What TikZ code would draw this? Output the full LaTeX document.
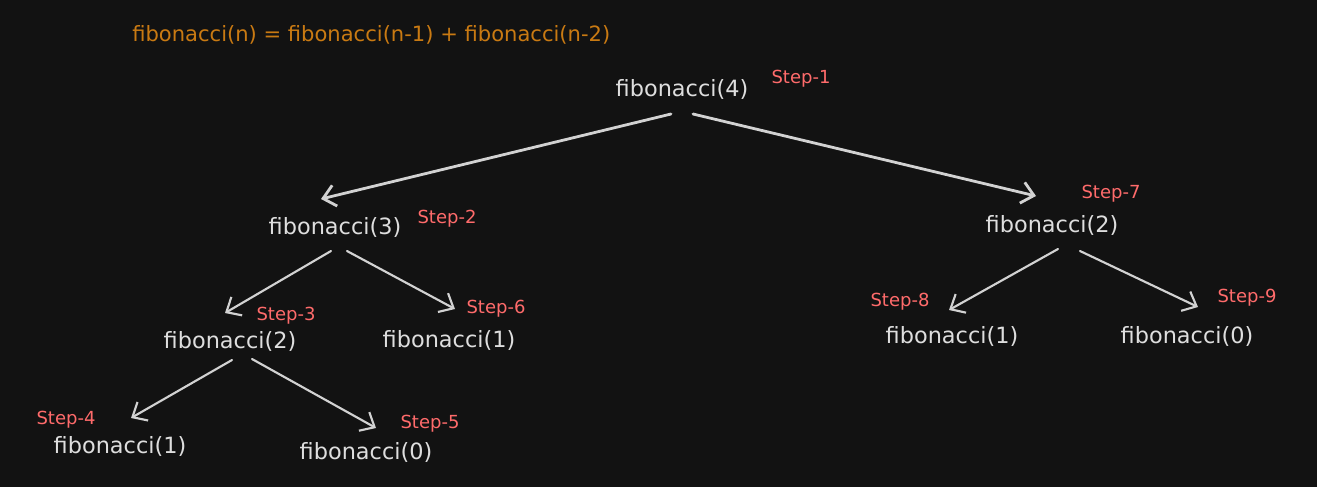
\documentclass[tikz,border=0pt]{standalone}
\usepackage{fontspec}
\setmainfont{DejaVu Sans}
\usepackage{tikz}
\usetikzlibrary{arrows.meta, calc, positioning}
\definecolor{bgdark}{HTML}{121212}
\definecolor{fibtext}{HTML}{DEDEDE}
\definecolor{arrgray}{HTML}{D2D2D2}
\definecolor{steppink}{HTML}{FF6B6B}
\definecolor{formulaorange}{HTML}{C97A12}

\begin{document}
\begin{tikzpicture}[x=0.75pt, y=-0.75pt,
		fib/.style={text=fibtext, inner sep=0pt, font=\fontsize{16.8}{18}\selectfont},
		stepnum/.style={text=steppink, inner sep=0pt, font=\fontsize{13.5}{15}\selectfont},
		arr/.style={draw=arrgray, line width=1.6pt, line cap=round, -{Straight Barb[length=9pt, width=16pt]}},
		bigarr/.style={arr, line width=2.1pt}]
			% background
			\fill[bgdark] (0,0) rectangle (1317,487);
			\useasboundingbox (0,0) rectangle (1317,487);
			
			% recurrence
			\node[anchor=west, text=formulaorange, inner sep=0pt, font=\fontsize{15.8}{18}\selectfont] (rec) at (132,35) {fibonacci(n) = fibonacci(n-1) + fibonacci(n-2)};
			
			% calls
			\node[fib] (f4) at (682,89) {fibonacci(4)};
			\node[fib] (f3) at (335,227) {fibonacci(3)};
			\node[fib] (f2b) at (1052,225) {fibonacci(2)};
			\node[fib] (f2a) at (230,341) {fibonacci(2)};
			\node[fib] (f1a) at (449,340) {fibonacci(1)};
			\node[fib] (f1b) at (120,446) {fibonacci(1)};
			\node[fib] (f0a) at (366,452) {fibonacci(0)};
			\node[fib] (f1c) at (952,336) {fibonacci(1)};
			\node[fib] (f0b) at (1187,336) {fibonacci(0)};
			
			% steps
			\node[stepnum] (s1) at (801,79) {Step-1};
			\node[stepnum] (s2) at (447,219) {Step-2};
			\node[stepnum] (s3) at (286,316) {Step-3};
			\node[stepnum] (s4) at (66,420) {Step-4};
			\node[stepnum] (s5) at (430,424) {Step-5};
			\node[stepnum] (s6) at (496,309) {Step-6};
			\node[stepnum] (s7) at (1111,194) {Step-7};
			\node[stepnum] (s8) at (900,302) {Step-8};
			\node[stepnum] (s9) at (1247,298) {Step-9};
			
			% calls to children
			\draw[bigarr] ($(f4)+(-11,25)$) -- ($(f3)+(-14,-28)$);
			\draw[bigarr] ($(f4)+(11,25)$) -- ($(f2b)+(-16,-29)$);
			\draw[arr] ($(f3)+(-4,24)$) -- ($(f2a)+(-5,-28)$);
			\draw[arr] ($(f3)+(12,24)$) -- ($(f1a)+(6,-31)$);
			\draw[arr] ($(f2a)+(2,19)$) -- ($(f1b)+(11,-28)$);
			\draw[arr] ($(f2a)+(22,18)$) -- ($(f0a)+(10,-24)$);
			\draw[arr] ($(f2b)+(6,24)$) -- ($(f1c)+(-3,-26)$);
			\draw[arr] ($(f2b)+(28,26)$) -- ($(f0b)+(11,-29)$);
			
		\end{tikzpicture}
\end{document}
